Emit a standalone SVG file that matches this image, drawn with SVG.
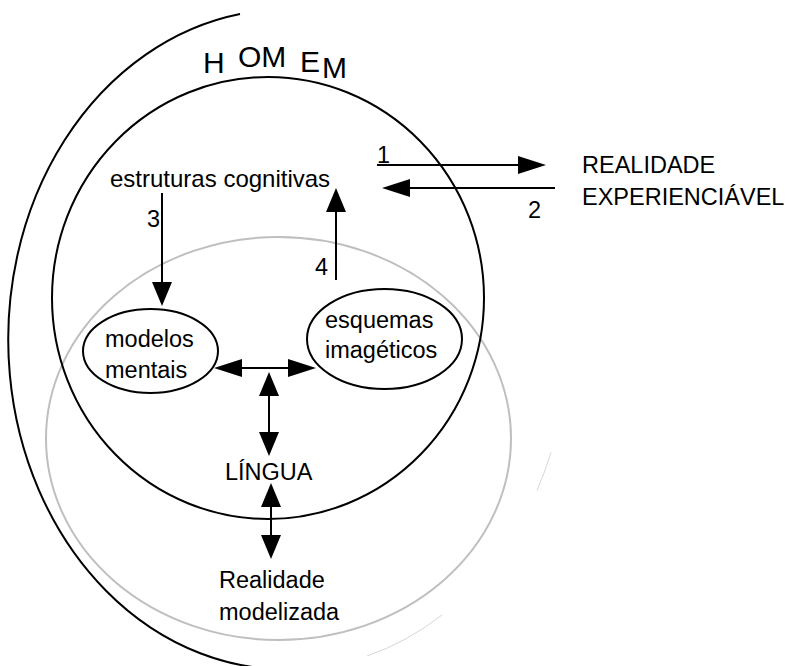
<svg xmlns="http://www.w3.org/2000/svg" width="790" height="666" viewBox="0 0 790 666">
<style>
  text { font-family: "Liberation Sans", Arial, sans-serif; fill: #000; }
  .t { font-size: 23.5px; }
  .big { font-size: 30px; }
  .ln { stroke: #000; stroke-width: 2; fill: none; }
  .node { stroke: #000; stroke-width: 2; fill: #fff; }
</style>
<defs>
  <marker id="ah" viewBox="0 0 28 18" markerWidth="28" markerHeight="18" refX="0" refY="9" markerUnits="userSpaceOnUse" orient="auto-start-reverse">
    <path d="M0,0 L28,9 L0,18 z" fill="#000"/>
  </marker>
  <marker id="av" viewBox="0 0 24 20" markerWidth="24" markerHeight="20" refX="0" refY="10" markerUnits="userSpaceOnUse" orient="auto-start-reverse">
    <path d="M0,0 L24,10 L0,20 z" fill="#000"/>
  </marker>
</defs>
<rect width="790" height="666" fill="#fff"/>

<g id="outer-arc">
  <path d="M240,14 A278,330 0 0 0 300,669" class="ln"/>
  <path d="M367,656 A278,330 0 0 0 442,615" fill="none" stroke="#bbb" stroke-width="0.6"/>
  <path d="M537,490.5 A278,330 0 0 0 551,452.5" fill="none" stroke="#bbb" stroke-width="0.6"/>
</g>

<g id="gray-circle">
  <ellipse cx="278.5" cy="438.5" rx="232.5" ry="201.5" fill="none" stroke="#bfbfbf" stroke-width="2"/>
</g>

<g id="homem-circle">
  <ellipse cx="268" cy="298" rx="216" ry="221" class="ln"/>
</g>

<g id="homem-label">
  <text class="big" x="203" y="73">H</text>
  <text class="big" x="238" y="67">OM</text>
  <text class="big" x="300" y="72">E</text>
  <text class="big" x="322" y="78">M</text>
</g>

<g id="connectors">
  <line x1="377" y1="165" x2="518" y2="165" class="ln" marker-end="url(#ah)"/>
  <line x1="555" y1="188" x2="410" y2="188" class="ln" marker-end="url(#ah)"/>
  <line x1="162" y1="193" x2="162" y2="282" class="ln" marker-end="url(#av)"/>
  <line x1="336" y1="280" x2="336" y2="212" class="ln" marker-end="url(#av)"/>
  <line x1="242" y1="368" x2="288" y2="368" class="ln" marker-start="url(#ah)" marker-end="url(#ah)"/>
  <line x1="269" y1="396" x2="269" y2="432" class="ln" marker-start="url(#av)" marker-end="url(#av)"/>
  <line x1="271" y1="507" x2="271" y2="535" class="ln" marker-start="url(#av)" marker-end="url(#av)"/>
  <text class="t" x="377" y="163">1</text>
  <text class="t" x="528" y="218">2</text>
  <text class="t" x="147" y="227">3</text>
  <text class="t" x="315" y="275">4</text>
</g>

<g id="estruturas">
  <text class="t" x="110" y="187" style="font-size:24px">estruturas cognitivas</text>
</g>

<g id="realidade-experienciavel">
  <text class="t" x="582" y="173">REALIDADE</text>
  <text class="t" x="582" y="205">EXPERIENCIÁVEL</text>
</g>

<g id="modelos-mentais">
  <ellipse cx="150.5" cy="351" rx="67.5" ry="42" class="node"/>
  <text class="t" x="105" y="347">modelos</text>
  <text class="t" x="105" y="378">mentais</text>
</g>

<g id="esquemas-imageticos">
  <ellipse cx="384.5" cy="339" rx="77.5" ry="50" class="node"/>
  <text class="t" x="325" y="328">esquemas</text>
  <text class="t" x="325" y="358">imagéticos</text>
</g>

<g id="lingua">
  <text class="t" x="225" y="480">LÍNGUA</text>
</g>

<g id="realidade-modelizada">
  <text class="t" x="219" y="588">Realidade</text>
  <text class="t" x="219" y="620">modelizada</text>
</g>
</svg>
